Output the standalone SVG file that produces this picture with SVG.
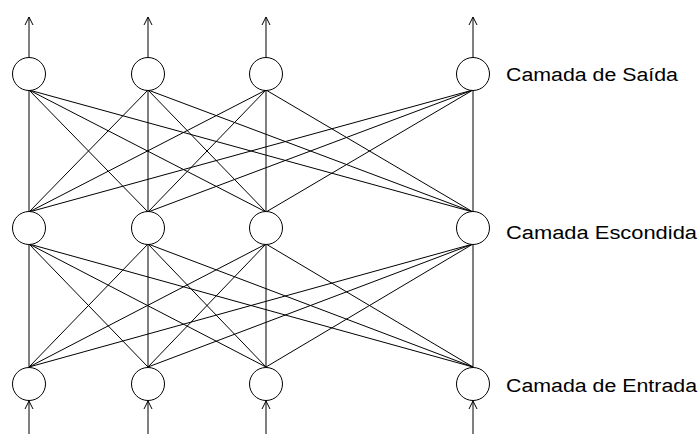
<svg xmlns="http://www.w3.org/2000/svg" width="699" height="434" viewBox="0 0 699 434">
<style>
.n{fill:#fff;stroke:#000;stroke-width:1}
.c line{stroke:#000;stroke-width:1}
.a{fill:none;stroke:#000;stroke-width:1}
.t{font-family:"Liberation Sans",Arial,sans-serif;font-size:18px;fill:#000}
</style>
<defs>
<marker id="ah" viewBox="0 0 10 10" refX="9" refY="5" markerWidth="10" markerHeight="10" markerUnits="userSpaceOnUse" orient="auto">
<path d="M1,1 L9,5 L1,9" fill="none" stroke="#000" stroke-width="1"/>
</marker>
</defs>
<rect width="699" height="434" fill="#fff"/>
<g id="connectors" class="c">
<line x1="29" y1="90" x2="29" y2="212"/><line x1="29" y1="90" x2="148" y2="212"/><line x1="29" y1="90" x2="266" y2="212"/><line x1="29" y1="90" x2="473" y2="212"/>
<line x1="148" y1="90" x2="29" y2="212"/><line x1="148" y1="90" x2="148" y2="212"/><line x1="148" y1="90" x2="266" y2="212"/><line x1="148" y1="90" x2="473" y2="212"/>
<line x1="266" y1="90" x2="29" y2="212"/><line x1="266" y1="90" x2="148" y2="212"/><line x1="266" y1="90" x2="266" y2="212"/><line x1="266" y1="90" x2="473" y2="212"/>
<line x1="473" y1="90" x2="29" y2="212"/><line x1="473" y1="90" x2="148" y2="212"/><line x1="473" y1="90" x2="266" y2="212"/><line x1="473" y1="90" x2="473" y2="212"/>
<line x1="29" y1="244" x2="29" y2="367"/><line x1="29" y1="244" x2="148" y2="367"/><line x1="29" y1="244" x2="266" y2="367"/><line x1="29" y1="244" x2="473" y2="367"/>
<line x1="148" y1="244" x2="29" y2="367"/><line x1="148" y1="244" x2="148" y2="367"/><line x1="148" y1="244" x2="266" y2="367"/><line x1="148" y1="244" x2="473" y2="367"/>
<line x1="266" y1="244" x2="29" y2="367"/><line x1="266" y1="244" x2="148" y2="367"/><line x1="266" y1="244" x2="266" y2="367"/><line x1="266" y1="244" x2="473" y2="367"/>
<line x1="473" y1="244" x2="29" y2="367"/><line x1="473" y1="244" x2="148" y2="367"/><line x1="473" y1="244" x2="266" y2="367"/><line x1="473" y1="244" x2="473" y2="367"/>
<line x1="29" y1="57" x2="29" y2="17" marker-end="url(#ah)"/>
<line x1="148" y1="57" x2="148" y2="17" marker-end="url(#ah)"/>
<line x1="266" y1="57" x2="266" y2="17" marker-end="url(#ah)"/>
<line x1="473" y1="57" x2="473" y2="17" marker-end="url(#ah)"/>
<line x1="29" y1="434" x2="29" y2="401" marker-end="url(#ah)"/>
<line x1="148" y1="434" x2="148" y2="401" marker-end="url(#ah)"/>
<line x1="266" y1="434" x2="266" y2="401" marker-end="url(#ah)"/>
<line x1="473" y1="434" x2="473" y2="401" marker-end="url(#ah)"/>
</g>
<g id="out1"><circle class="n" cx="29" cy="74" r="16.5"/></g>
<g id="out2"><circle class="n" cx="148" cy="74" r="16.5"/></g>
<g id="out3"><circle class="n" cx="266" cy="74" r="16.5"/></g>
<g id="out4"><circle class="n" cx="473" cy="74" r="16.5"/></g>
<g id="hid1"><circle class="n" cx="29" cy="228" r="16.5"/></g>
<g id="hid2"><circle class="n" cx="148" cy="228" r="16.5"/></g>
<g id="hid3"><circle class="n" cx="266" cy="228" r="16.5"/></g>
<g id="hid4"><circle class="n" cx="473" cy="228" r="16.5"/></g>
<g id="in1"><circle class="n" cx="29" cy="384" r="16.5"/></g>
<g id="in2"><circle class="n" cx="148" cy="384" r="16.5"/></g>
<g id="in3"><circle class="n" cx="266" cy="384" r="16.5"/></g>
<g id="in4"><circle class="n" cx="473" cy="384" r="16.5"/></g>
<g id="labels">
<text class="t" x="506" y="81" textLength="172" lengthAdjust="spacingAndGlyphs">Camada de Saída</text>
<text class="t" x="506" y="239" textLength="191" lengthAdjust="spacingAndGlyphs">Camada Escondida</text>
<text class="t" x="506" y="392" textLength="191" lengthAdjust="spacingAndGlyphs">Camada de Entrada</text>
</g>
</svg>
